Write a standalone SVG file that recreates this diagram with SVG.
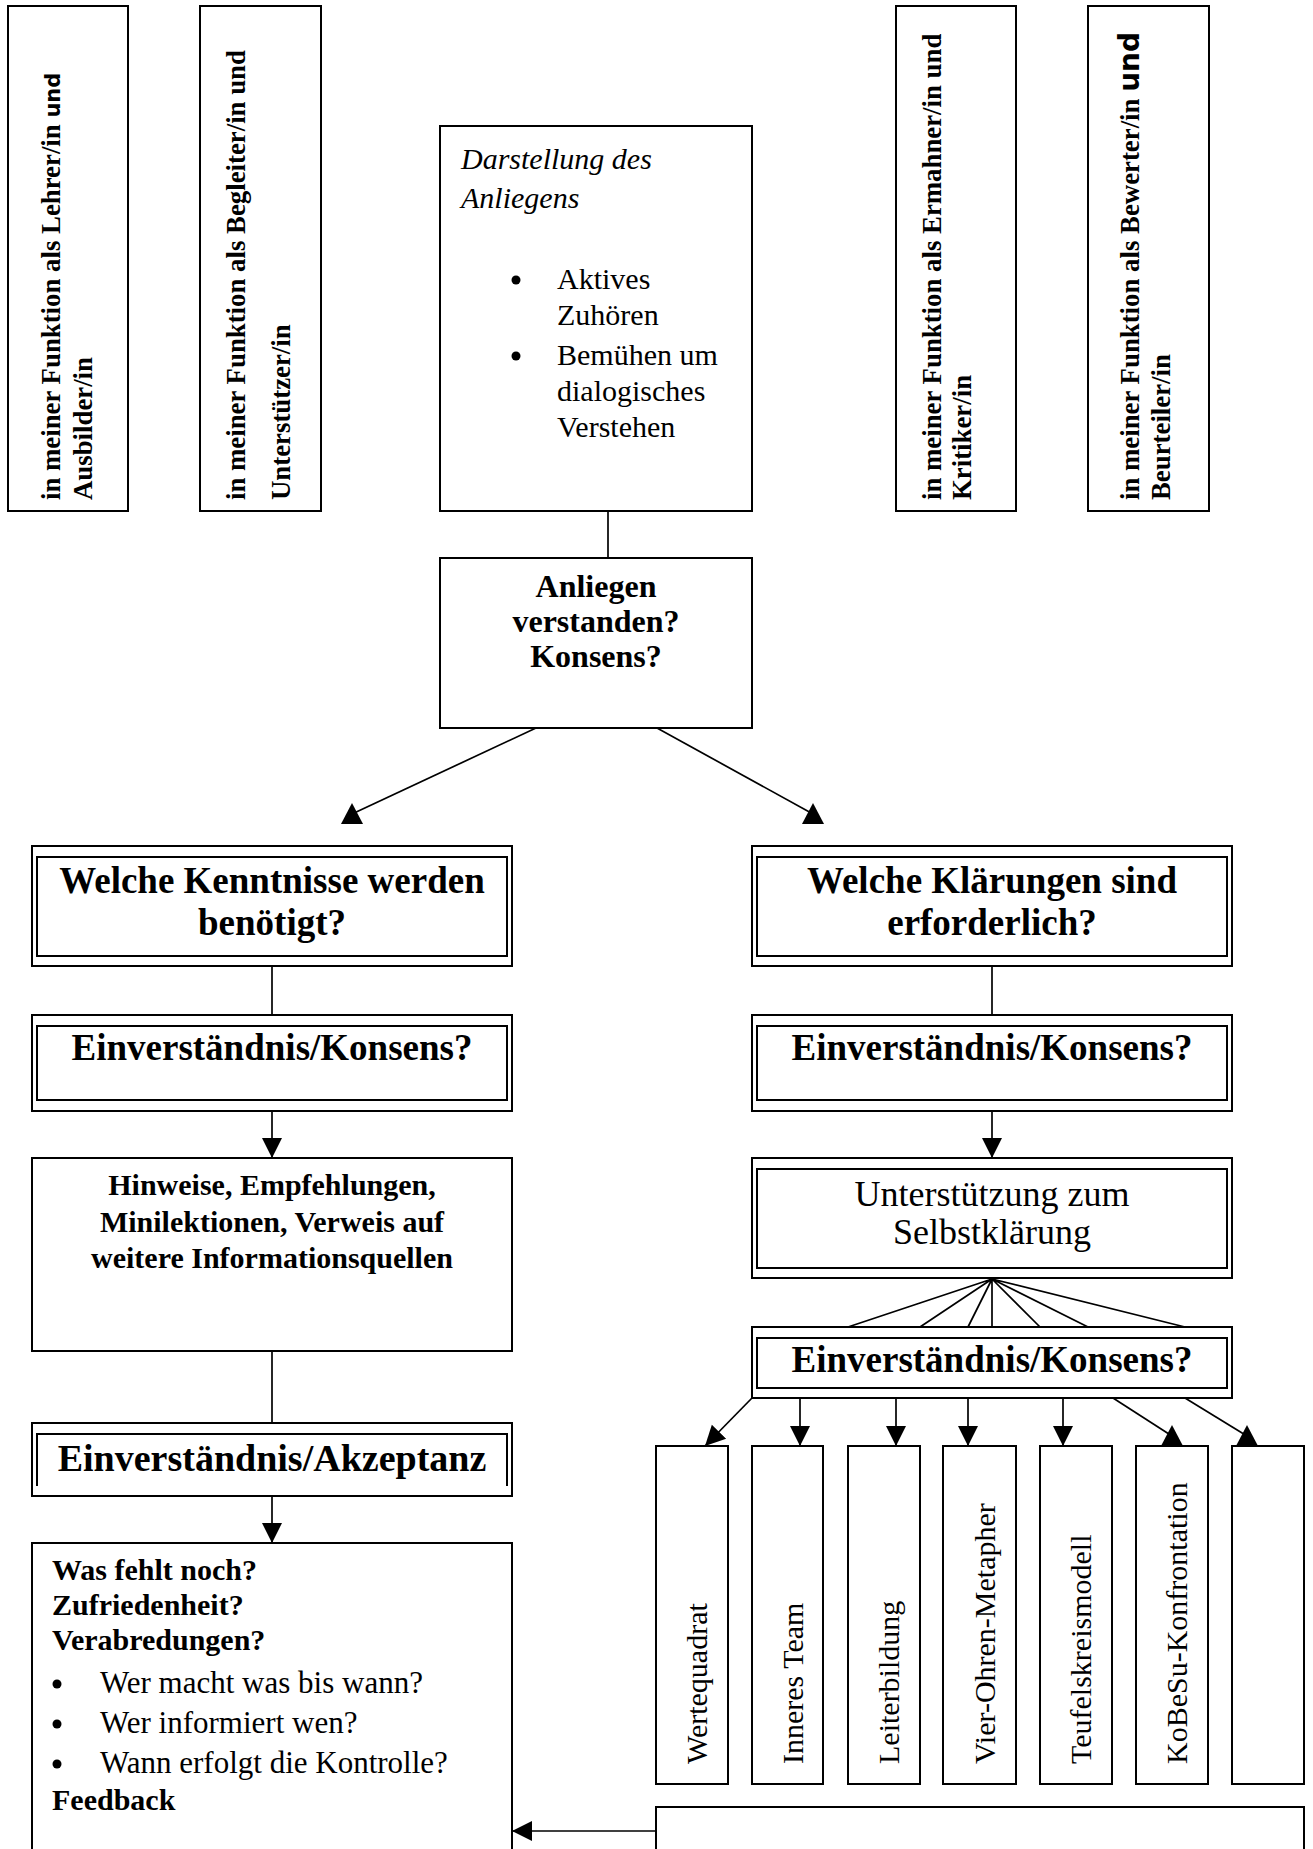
<svg xmlns="http://www.w3.org/2000/svg" width="1313" height="1849" viewBox="0 0 1313 1849">
<style>
.bg{fill:#fff}
.box{fill:#fff;stroke:#000;stroke-width:2}
.in{fill:none;stroke:#000;stroke-width:2}
.c{fill:none;stroke:#000;stroke-width:1.7}
text{font-family:"Liberation Serif","Times New Roman",serif;fill:#000}
.b{font-weight:bold}
.i{font-style:italic}
.s{font-family:"DejaVu Sans","Liberation Sans",sans-serif;font-weight:bold}
.tv{font-size:26.8px;font-weight:bold}
.t30{font-size:30px}
.t31{font-size:31px}
.t32{font-size:32px}
.t36{font-size:36px}
.t37{font-size:37px}
.t38{font-size:38px}
.mid{text-anchor:middle}
</style>
<defs>
<marker id="ah" markerUnits="userSpaceOnUse" viewBox="0 -11 21 22" markerWidth="21" markerHeight="22" refX="20" refY="0" orient="auto"><path d="M0,-10 L20,0 L0,10 z" fill="#000"/></marker>
<marker id="up" markerUnits="userSpaceOnUse" viewBox="-1 -12 23 24" markerWidth="23" markerHeight="24" refX="10" refY="0" orient="-90"><path d="M0,-11 L21,0 L0,11 z" fill="#000"/></marker>
</defs>
<rect class="bg" x="0" y="0" width="1313" height="1849"/>

<g id="role-lehrer">
<rect class="box" x="8" y="6" width="120" height="505"/>
<text class="tv" transform="translate(60,500) rotate(-90)">in meiner Funktion als Lehrer/in <tspan class="s" font-size="21">und</tspan></text>
<text class="tv" transform="translate(92,500) rotate(-90)">Ausbilder/in</text>
</g>
<g id="role-begleiter">
<rect class="box" x="200" y="6" width="121" height="505"/>
<text class="tv" transform="translate(245,500) rotate(-90)">in meiner Funktion als Begleiter/in und</text>
<text class="tv" transform="translate(290,500) rotate(-90)">Unterstützer/in</text>
</g>
<g id="role-ermahner">
<rect class="box" x="896" y="6" width="120" height="505"/>
<text class="tv" transform="translate(941,500) rotate(-90)">in meiner Funktion als Ermahner/in und</text>
<text class="tv" transform="translate(971,500) rotate(-90)">Kritiker/in</text>
</g>
<g id="role-bewerter">
<rect class="box" x="1088" y="6" width="121" height="505"/>
<text class="tv" transform="translate(1139,500) rotate(-90)">in meiner Funktion als Bewerter/in <tspan class="s" font-size="28">und</tspan></text>
<text class="tv" transform="translate(1170,500) rotate(-90)">Beurteiler/in</text>
</g>

<g id="darstellung">
<rect class="box" x="440" y="126" width="312" height="385"/>
<text class="t30 i" x="461" y="169">Darstellung des</text>
<text class="t30 i" x="461" y="208">Anliegens</text>
<circle cx="516" cy="280" r="4.5"/>
<circle cx="516" cy="356" r="4.5"/>
<text class="t30" x="557" y="289">Aktives</text>
<text class="t30" x="557" y="325">Zuhören</text>
<text class="t30" x="557" y="365">Bemühen um</text>
<text class="t30" x="557" y="401">dialogisches</text>
<text class="t30" x="557" y="437">Verstehen</text>
</g>

<g id="anliegen">
<rect class="box" x="440" y="558" width="312" height="170"/>
<text class="t32 b mid" x="596" y="597">Anliegen</text>
<text class="t32 b mid" x="596" y="632">verstanden?</text>
<text class="t32 b mid" x="596" y="667">Konsens?</text>
</g>

<g id="kenntnisse">
<rect class="box" x="32" y="846" width="480" height="120"/>
<rect class="in" x="37" y="857" width="470" height="99"/>
<text class="t37 b mid" x="272" y="893">Welche Kenntnisse werden</text>
<text class="t37 b mid" x="272" y="935">benötigt?</text>
</g>
<g id="konsens-links">
<rect class="box" x="32" y="1015" width="480" height="96"/>
<rect class="in" x="37" y="1026" width="470" height="74"/>
<text class="t37 b mid" x="272" y="1060">Einverständnis/Konsens?</text>
</g>
<g id="hinweise">
<rect class="box" x="32" y="1158" width="480" height="193"/>
<text class="t30 b mid" x="272" y="1195">Hinweise, Empfehlungen,</text>
<text class="t30 b mid" x="272" y="1232">Minilektionen, Verweis auf</text>
<text class="t30 b mid" x="272" y="1268">weitere Informationsquellen</text>
</g>
<g id="akzeptanz">
<rect class="box" x="32" y="1423" width="480" height="73"/>
<path class="in" d="M37,1486 V1434 H507 V1486"/>
<text class="t38 b mid" x="272" y="1471">Einverständnis/Akzeptanz</text>
</g>
<g id="abschluss">
<rect class="box" x="32" y="1543" width="480" height="330"/>
<text class="t30 b" x="52" y="1580">Was fehlt noch?</text>
<text class="t30 b" x="52" y="1615">Zufriedenheit?</text>
<text class="t30 b" x="52" y="1650">Verabredungen?</text>
<circle cx="57" cy="1684" r="4.5"/>
<circle cx="57" cy="1724" r="4.5"/>
<circle cx="57" cy="1764" r="4.5"/>
<text class="t31" x="100" y="1693">Wer macht was bis wann?</text>
<text class="t31" x="100" y="1733">Wer informiert wen?</text>
<text class="t31" x="100" y="1773">Wann erfolgt die Kontrolle?</text>
<text class="t30 b" x="52" y="1810">Feedback</text>
</g>

<g id="klaerungen">
<rect class="box" x="752" y="846" width="480" height="120"/>
<rect class="in" x="757" y="857" width="470" height="99"/>
<text class="t37 b mid" x="992" y="893">Welche Klärungen sind</text>
<text class="t37 b mid" x="992" y="935">erforderlich?</text>
</g>
<g id="konsens-rechts">
<rect class="box" x="752" y="1015" width="480" height="96"/>
<rect class="in" x="757" y="1026" width="470" height="74"/>
<text class="t37 b mid" x="992" y="1060">Einverständnis/Konsens?</text>
</g>
<g id="selbstklaerung">
<rect class="box" x="752" y="1158" width="480" height="120"/>
<rect class="in" x="757" y="1169" width="470" height="99"/>
<text class="t36 mid" x="992" y="1206">Unterstützung zum</text>
<text class="t36 mid" x="992" y="1244">Selbstklärung</text>
</g>
<g id="konsens-methoden">
<rect class="box" x="752" y="1327" width="480" height="71"/>
<rect class="in" x="757" y="1338" width="470" height="50"/>
<text class="t37 b mid" x="992" y="1372">Einverständnis/Konsens?</text>
</g>

<g id="m-wertequadrat"><rect class="box" x="656" y="1446" width="72" height="338"/><text class="t30" transform="translate(707,1764) rotate(-90)">Wertequadrat</text></g>
<g id="m-inneres-team"><rect class="box" x="752" y="1446" width="71" height="338"/><text class="t30" transform="translate(803,1764) rotate(-90)">Inneres Team</text></g>
<g id="m-leiterbildung"><rect class="box" x="848" y="1446" width="72" height="338"/><text class="t30" transform="translate(899,1764) rotate(-90)">Leiterbildung</text></g>
<g id="m-vier-ohren"><rect class="box" x="943" y="1446" width="73" height="338"/><text class="t30" transform="translate(995,1764) rotate(-90)">Vier-Ohren-Metapher</text></g>
<g id="m-teufelskreis"><rect class="box" x="1040" y="1446" width="72" height="338"/><text class="t30" transform="translate(1091,1764) rotate(-90)">Teufelskreismodell</text></g>
<g id="m-kobesu"><rect class="box" x="1136" y="1446" width="72" height="338"/><text class="t30" transform="translate(1187,1764) rotate(-90)">KoBeSu-Konfrontation</text></g>
<g id="m-leer"><rect class="box" x="1232" y="1446" width="72" height="338"/></g>
<g id="unten-leer"><rect class="box" x="656" y="1807" width="648" height="70"/></g>

<g id="connectors">
<line class="c" x1="608" y1="511" x2="608" y2="558"/>
<line class="c" x1="536" y1="728" x2="352" y2="814" marker-end="url(#up)"/>
<line class="c" x1="657" y1="728" x2="813" y2="814" marker-end="url(#up)"/>
<line class="c" x1="272" y1="966" x2="272" y2="1015"/>
<line class="c" x1="272" y1="1111" x2="272" y2="1158" marker-end="url(#ah)"/>
<line class="c" x1="272" y1="1351" x2="272" y2="1423"/>
<line class="c" x1="272" y1="1496" x2="272" y2="1543" marker-end="url(#ah)"/>
<line class="c" x1="992" y1="966" x2="992" y2="1015"/>
<line class="c" x1="992" y1="1111" x2="992" y2="1158" marker-end="url(#ah)"/>
<path class="c" d="M992,1279 L848,1327 M992,1279 L920,1327 M992,1279 L968,1327 M992,1279 L992,1327 M992,1279 L1040,1327 M992,1279 L1088,1327 M992,1279 L1185,1327"/>
<line class="c" x1="752" y1="1398" x2="705" y2="1446" marker-end="url(#ah)"/>
<line class="c" x1="800" y1="1398" x2="800" y2="1446" marker-end="url(#ah)"/>
<line class="c" x1="896" y1="1398" x2="896" y2="1446" marker-end="url(#ah)"/>
<line class="c" x1="968" y1="1398" x2="968" y2="1446" marker-end="url(#ah)"/>
<line class="c" x1="1063" y1="1398" x2="1063" y2="1446" marker-end="url(#ah)"/>
<line class="c" x1="1113" y1="1398" x2="1172" y2="1436" marker-end="url(#up)"/>
<line class="c" x1="1185" y1="1398" x2="1247" y2="1436" marker-end="url(#up)"/>
<line class="c" x1="656" y1="1831" x2="512" y2="1831" marker-end="url(#ah)"/>
</g>
</svg>
